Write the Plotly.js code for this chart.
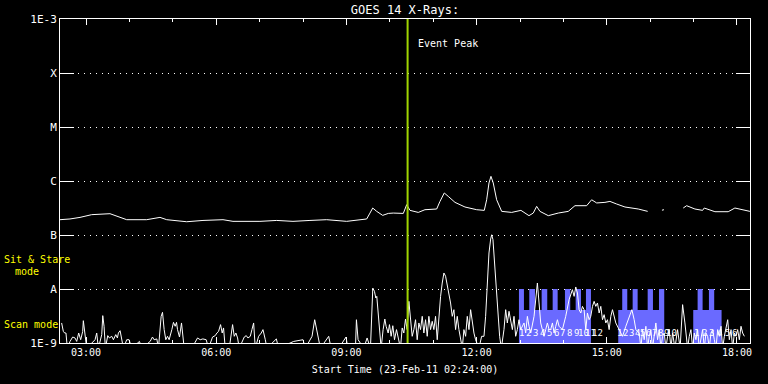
<!DOCTYPE html>
<html>
<head>
<meta charset="utf-8">
<script src="https://cdn.plot.ly/plotly-3.0.1.min.js"></script>
<style>html,body{margin:0;padding:0;background:#000;}</style>
</head>
<body>
<div id="chart" style="width:768px;height:384px;"></div>
<script>
// ---- data (time in decimal hours of 23-Feb-2011, flux in W/m^2) ----
const longT = [2.400,2.630,2.861,3.130,3.552,3.736,3.937,4.398,4.704,4.859,5.319,5.695,6.156,6.386,7.008,7.393,7.769,8.160,8.545,9.006,9.352,9.467,9.543,9.606,9.698,9.836,9.965,10.080,10.311,10.389,10.465,10.656,10.810,11.080,11.156,11.255,11.347,11.502,11.732,12.002,12.177,12.232,12.285,12.331,12.384,12.462,12.578,12.808,13.022,13.207,13.306,13.384,13.460,13.652,13.882,14.112,14.267,14.536,14.651,14.767,14.958,15.073,15.227,15.419,15.725,15.942,16.100,16.271,16.317,16.500,16.762,16.840,17.031,17.208,17.245,17.492,17.798,17.952,18.298];
const longF = [1.92e-7,1.98e-7,2.12e-7,2.38e-7,2.48e-7,2.21e-7,1.92e-7,1.92e-7,2.12e-7,1.92e-7,1.76e-7,1.86e-7,1.92e-7,1.79e-7,1.79e-7,1.86e-7,1.79e-7,1.86e-7,1.92e-7,1.79e-7,1.92e-7,1.98e-7,2.55e-7,3.16e-7,2.74e-7,2.31e-7,2.51e-7,2.55e-7,2.51e-7,3.64e-7,2.86e-7,2.62e-7,2.94e-7,3.03e-7,4.19e-7,6.00e-7,5.19e-7,4.02e-7,3.30e-7,2.94e-7,2.86e-7,4.49e-7,9.18e-7,1.22e-6,9.18e-7,4.49e-7,2.74e-7,2.62e-7,2.86e-7,2.28e-7,2.55e-7,3.39e-7,2.74e-7,2.28e-7,2.55e-7,2.74e-7,3.49e-7,3.49e-7,4.49e-7,3.92e-7,4.02e-7,4.19e-7,3.75e-7,3.30e-7,3.03e-7,2.74e-7,null,2.88e-7,2.94e-7,null,3.16e-7,3.49e-7,3.03e-7,2.86e-7,3.16e-7,2.70e-7,2.70e-7,3.16e-7,2.74e-7];

const shortT = [2.438,2.477,2.508,2.538,2.569,2.631,2.692,2.746,2.785,2.831,2.877,2.923,2.938,2.962,3.015,3.208,3.246,3.285,3.362,3.385,3.415,3.446,3.500,3.538,3.592,3.631,3.685,3.723,3.746,3.785,3.823,3.862,3.938,3.992,4.054,4.231,4.285,4.477,4.531,4.569,4.631,4.669,4.731,4.762,4.800,4.838,4.877,4.915,4.977,5.015,5.054,5.085,5.108,5.154,5.200,5.231,5.262,5.438,5.569,5.631,5.692,5.769,5.823,5.915,5.977,6.015,6.054,6.100,6.138,6.169,6.208,6.300,6.346,6.377,6.415,6.454,6.492,6.531,6.646,6.692,6.731,6.785,6.823,6.862,6.900,6.977,7.038,7.077,7.131,7.169,7.385,7.438,7.785,8.000,8.054,8.208,8.269,8.308,8.362,8.400,8.592,8.646,8.823,8.992,9.031,9.208,9.231,9.269,9.400,9.477,9.554,9.608,9.646,9.677,9.700,9.731,9.769,9.800,9.846,9.885,9.915,9.962,9.992,10.031,10.069,10.108,10.154,10.208,10.246,10.285,10.323,10.362,10.400,10.439,10.477,10.516,10.554,10.593,10.631,10.670,10.708,10.747,10.785,10.824,10.862,10.900,10.939,10.977,11.016,11.054,11.093,11.131,11.170,11.208,11.247,11.285,11.324,11.362,11.400,11.439,11.477,11.516,11.554,11.593,11.631,11.670,11.708,11.747,11.785,11.824,11.862,11.900,11.939,11.977,12.054,12.116,12.170,12.208,12.247,12.285,12.324,12.347,12.377,12.416,12.454,12.493,12.531,12.570,12.631,12.670,12.708,12.747,12.785,12.824,12.862,12.900,12.939,12.977,13.016,13.093,13.131,13.170,13.208,13.247,13.324,13.362,13.401,13.439,13.477,13.516,13.554,13.593,13.631,13.670,13.708,13.747,13.785,13.824,13.862,13.900,13.977,14.054,14.131,14.208,14.247,14.285,14.324,14.362,14.401,14.439,14.477,14.516,14.554,14.593,14.631,14.670,14.708,14.747,14.785,14.824,14.862,14.901,14.939,14.977,15.016,15.054,15.093,15.131,15.170,15.208,15.285,15.362,15.439,15.516,15.578,15.631,15.670,15.747,15.786,15.824,15.862,15.901,15.940,15.977,16.016,16.054,16.093,16.131,16.170,16.208,16.247,16.285,16.324,16.362,16.401,16.439,16.478,16.516,16.570,16.631,16.690,16.747,16.800,16.862,16.901,16.939,16.978,17.016,17.054,17.093,17.131,17.170,17.208,17.247,17.285,17.324,17.362,17.401,17.439,17.478,17.516,17.555,17.593,17.632,17.670,17.709,17.747,17.786,17.824,17.863,17.901,17.940,17.977,18.016,18.054,18.093,18.131,18.170,18.208,18.247,18.285,18.324];
const shortF = [2.35e-9,1.64e-9,1.53e-9,1.53e-9,8e-10,1.07e-9,1.29e-9,1.24e-9,1.07e-9,1.53e-9,1.15e-9,1.64e-9,2.59e-9,1.64e-9,8e-10,1.15e-9,1.53e-9,8e-10,1.43e-9,3.21e-9,2.04e-9,8e-10,1.37e-9,1.24e-9,1.33e-9,1.15e-9,1.43e-9,1.24e-9,1.53e-9,1.69e-9,1.24e-9,8e-10,1.15e-9,1.15e-9,8e-10,1.07e-9,8e-10,1.07e-9,1.29e-9,1.15e-9,1.19e-9,8e-10,3.12e-9,3.70e-9,1.77e-9,1.15e-9,1.33e-9,1.15e-9,1.77e-9,2.41e-9,2.04e-9,2.41e-9,1.77e-9,1.29e-9,2.35e-9,1.53e-9,8e-10,8e-10,1.24e-9,1.15e-9,1.19e-9,1.15e-9,8e-10,1.29e-9,1.37e-9,1.53e-9,1.64e-9,2.19e-9,1.53e-9,1.90e-9,8e-10,8e-10,1.53e-9,2.19e-9,1.33e-9,1.53e-9,1.24e-9,8e-10,1.29e-9,1.37e-9,1.24e-9,1.33e-9,1.77e-9,2.35e-9,8e-10,1.33e-9,1.53e-9,1.77e-9,1.15e-9,8e-10,1.19e-9,8e-10,1.07e-9,1.15e-9,8e-10,1.33e-9,2.70e-9,1.77e-9,1.15e-9,8e-10,1.33e-9,8e-10,8e-10,1.29e-9,8e-10,8e-10,2.70e-9,1.15e-9,8e-10,1.24e-9,8e-10,1.04e-8,9.05e-9,6.81e-9,7.31e-9,3.12e-9,1.15e-9,8e-10,1.77e-9,2.78e-9,2.04e-9,1.53e-9,2.19e-9,1.33e-9,2.09e-9,1.15e-9,1.77e-9,1.15e-9,8e-10,1.90e-9,1.53e-9,2.78e-9,1.77e-9,5.91e-9,3.12e-9,1.33e-9,1.77e-9,2.70e-9,1.15e-9,2.35e-9,1.77e-9,3.12e-9,1.53e-9,2.70e-9,1.33e-9,3.12e-9,1.77e-9,2.52e-9,1.77e-9,3.12e-9,1.15e-9,3.12e-9,7.31e-9,1.29e-8,1.98e-8,1.72e-8,1.20e-8,7.31e-9,5.51e-9,3.12e-9,4.14e-9,1.77e-9,3.12e-9,1.77e-9,1.24e-9,8e-10,1.77e-9,1.33e-9,3.12e-9,1.77e-9,4.14e-9,2.35e-9,1.53e-9,1.15e-9,8e-10,1.33e-9,1.33e-9,3.12e-9,1.29e-8,4.64e-8,8.43e-8,1.01e-7,8.20e-8,3.03e-8,8.43e-9,3.12e-9,1.33e-9,8e-10,1.77e-9,4.14e-9,2.35e-9,3.86e-9,2.70e-9,1.77e-9,3.12e-9,1.33e-9,1.77e-9,2.70e-9,1.77e-9,2.35e-9,1.53e-9,3.12e-9,2.04e-9,1.53e-9,3.12e-9,7.31e-9,1.29e-8,5.51e-9,2.35e-9,1.77e-9,1.33e-9,1.77e-9,2.35e-9,1.77e-9,1.77e-9,2.35e-9,1.53e-9,2.04e-9,2.70e-9,2.04e-9,1.77e-9,3.12e-9,6.34e-9,9.72e-9,7.31e-9,1.09e-8,8.43e-9,4.14e-9,3.59e-9,4.77e-9,4.14e-9,1.77e-9,3.59e-9,2.70e-9,3.12e-9,4.77e-9,5.91e-9,4.77e-9,5.51e-9,3.59e-9,4.77e-9,2.70e-9,3.35e-9,2.35e-9,2.70e-9,1.77e-9,3.12e-9,4.14e-9,3.12e-9,2.35e-9,1.77e-9,1.33e-9,2.04e-9,3.12e-9,4.14e-9,2.70e-9,1.77e-9,1.53e-9,8e-10,1.77e-9,1.15e-9,2.04e-9,8e-10,1.33e-9,1.77e-9,8e-10,1.53e-9,2.35e-9,1.15e-9,1.77e-9,8e-10,1.33e-9,1.53e-9,8e-10,1.33e-9,1.77e-9,8e-10,1.53e-9,8e-10,1.77e-9,8e-10,5.13e-9,2.35e-9,8e-10,1.33e-9,1.77e-9,8e-10,1.53e-9,1.15e-9,1.77e-9,8e-10,1.33e-9,1.77e-9,8e-10,1.53e-9,1.33e-9,8e-10,1.53e-9,1.77e-9,1.15e-9,8e-10,1.77e-9,1.33e-9,2.04e-9,8e-10,1.33e-9,1.77e-9,2.70e-9,1.15e-9,1.77e-9,8e-10,1.53e-9,1.33e-9,1.77e-9,1.15e-9,2.04e-9,1.53e-9,1.33e-9];

// observing mode steps (Sit & Stare / Scan), step starts
const modeT = [12.976,13.091,13.214,13.345,13.499,13.628,13.753,13.868,14.036,14.158,14.283,14.405,14.520,14.635,15.264,15.356,15.472,15.596,15.711,15.942,16.064,16.203,16.324,16.992,17.093,17.208,17.354,17.475,17.645];
const modeF = [1e-8,4.1e-9,1e-8,4.1e-9,1e-8,4.1e-9,1e-8,4.1e-9,1e-8,4.1e-9,1e-8,4.1e-9,1e-8,1e-12,4.1e-9,1e-8,4.1e-9,1e-8,4.1e-9,1e-8,4.1e-9,1e-8,1e-12,4.1e-9,1e-8,4.1e-9,1e-8,4.1e-9,1e-12];

// frame numbers
const frameT = [13.03,13.19,13.35,13.51,13.67,13.83,13.99,14.15,14.31,14.47,14.63,14.79, 15.30,15.43,15.57,15.70,15.83,15.97,16.10,16.23,16.37,16.50, 17.07,17.25,17.42,17.60,17.78,17.95];
const frameLabels = ['1','2','3','4','5','6','7','8','9','10','11','12', '1','2','3','4','5','6','7','8','9','10', '1','2','3','4','5','6'];
const frameLevel = 1.55e-9;

const eventPeakT = 10.41;
const yTickVals = [1e-9,1e-8,1e-7,1e-6,1e-5,1e-4,1e-3];
const yTickText = ['1E-9','A','B','C','M','X','1E-3'];

// ---- helpers ----
function h2d(h){
  const ms = Date.UTC(2011,1,23) + Math.round(h*3600000);
  return new Date(ms).toISOString().replace('T',' ').slice(0,19);
}

const traces = [
  {x:[h2d(modeT[0]), h2d(modeT[modeT.length-1])], y:[1e-12,1e-12], mode:'lines', line:{width:0, color:'rgba(0,0,0,0)'}, hoverinfo:'skip'},
  {x:modeT.map(h2d), y:modeF, mode:'lines', line:{shape:'hv', width:0, color:'#6a6aff'}, fill:'tonexty', fillcolor:'#6a6aff'},
  {x:shortT.map(h2d), y:shortF, mode:'lines', line:{color:'white', width:1}},
  {x:longT.map(h2d), y:longF, mode:'lines', line:{color:'white', width:1}, connectgaps:false}
];

const annotations = [
  {text:'Event Peak', xref:'x', yref:'paper', x:h2d(eventPeakT), y:(343-43)/324, xanchor:'left', yanchor:'middle', xshift:8, showarrow:false, font:{color:'white', size:10}},
  {text:'Sit & Stare', xref:'paper', yref:'paper', x:(2-60)/690, y:(343-259)/324, xanchor:'left', yanchor:'middle', showarrow:false, font:{color:'#ffff00', size:10}},
  {text:'mode', xref:'paper', yref:'paper', x:(13-60)/690, y:(343-271)/324, xanchor:'left', yanchor:'middle', showarrow:false, font:{color:'#ffff00', size:10}},
  {text:'Scan mode', xref:'paper', yref:'paper', x:(2-60)/690, y:(343-324)/324, xanchor:'left', yanchor:'middle', showarrow:false, font:{color:'#ffff00', size:10}}
];
frameT.forEach((t,i)=>{
  annotations.push({text:frameLabels[i], xref:'x', yref:'y', x:h2d(t), y:Math.log10(frameLevel), xanchor:'center', yanchor:'middle', showarrow:false, font:{color:'white', size:9}});
});

const layout = {
  width:768, height:384,
  paper_bgcolor:'black', plot_bgcolor:'black',
  margin:{l:60, r:18, t:19, b:41},
  font:{family:'DejaVu Sans Mono, monospace', color:'white', size:10},
  showlegend:false,
  title:{text:'GOES 14 X-Rays:', font:{size:12, color:'white'}, x:0.5, xref:'paper', xanchor:'center', y:1-10/384, yref:'container', yanchor:'middle'},
  xaxis:{
    type:'date', range:[h2d(2.4), h2d(18.3)],
    tick0:h2d(3), dtick:3*3600000, tickformat:'%H:%M',
    ticks:'inside', ticklen:6, tickcolor:'white', tickwidth:1,
    showline:true, linecolor:'white', linewidth:1, mirror:'ticks',
    showgrid:false, zeroline:false,
    minor:{dtick:3600000, tick0:h2d(3), ticks:'inside', ticklen:3, tickcolor:'white', showgrid:false},
    tickfont:{size:10, color:'white'},
    title:{text:'Start Time (23-Feb-11 02:24:00)', font:{size:10, color:'white'}, standoff:8}
  },
  yaxis:{
    type:'log', range:[-9,-3],
    tickvals:yTickVals, ticktext:yTickText,
    ticks:'inside', ticklen:14, tickcolor:'white', tickwidth:1,
    showline:true, linecolor:'white', linewidth:1, mirror:'ticks',
    showgrid:true, gridcolor:'white', gridwidth:1, griddash:'1px,5px',
    zeroline:false,
    tickfont:{size:11, color:'white'}
  },
  shapes:[
    {type:'line', xref:'x', yref:'paper', x0:h2d(eventPeakT), x1:h2d(eventPeakT), y0:0, y1:1, line:{color:'#a0d400', width:2}}
  ],
  annotations:annotations
};

Plotly.newPlot('chart', traces, layout, {displayModeBar:false, staticPlot:true});
</script>
</body>
</html>
